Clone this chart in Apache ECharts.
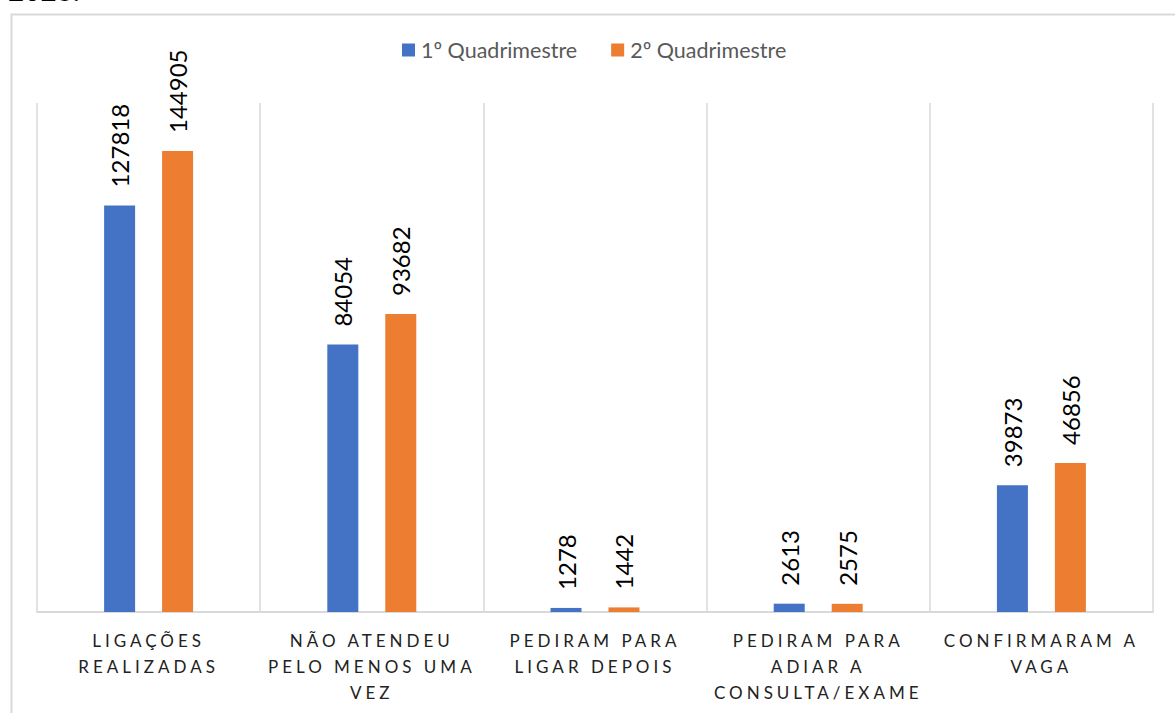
<!DOCTYPE html>
<html><head><meta charset="utf-8">
<script src="https://cdn.jsdelivr.net/npm/echarts@6/dist/echarts.min.js"></script>
<style>html,body{margin:0;padding:0;background:#fff;overflow:hidden}#c{width:1175px;height:713px}</style>
</head><body><div id="c"></div>
<script>
const categories = [
  'LIGAÇÕES\nREALIZADAS',
  'NÃO ATENDEU\nPELO MENOS UMA\nVEZ',
  'PEDIRAM PARA\nLIGAR DEPOIS',
  'PEDIRAM PARA\nADIAR A\nCONSULTA/EXAME',
  'CONFIRMARAM A\nVAGA'
];
const seriesNames = ['1º Quadrimestre', '2º Quadrimestre'];
const q1Values = [127818, 84054, 1278, 2613, 39873];
const q2Values = [144905, 93682, 1442, 2575, 46856];
const headerText = '2023.';

const FONT = 'Lato, "Open Sans", sans-serif';
const chart = echarts.init(document.getElementById('c'), null, {renderer: 'svg'});

const labelCfg = {
  show: true, position: 'top', rotate: 90, distance: 18,
  align: 'left', verticalAlign: 'middle',
  fontFamily: FONT, fontSize: 24, color: '#000'
};

chart.setOption({
  animation: false,
  backgroundColor: '#fff',
  graphic: [
    {type: 'rect', left: 9, top: 12, shape: {x: 0, y: 0, width: 1300, height: 900},
     style: {fill: 'none', stroke: '#d9d9d9', lineWidth: 2}, z: -1},
    {type: 'text', x: 8, y: -10,
     style: {text: headerText, font: '28px ' + FONT, fill: '#000', verticalAlign: 'middle'}}
  ],
  legend: {
    data: seriesNames, left: 397, top: 34,
    itemWidth: 13, itemHeight: 13, itemGap: 34, icon: 'rect',
    textStyle: {fontFamily: FONT, fontSize: 21.5, color: '#595959', padding: [0, 0, 0, 1]}
  },
  grid: {left: 37, right: 22, top: 103, bottom: 101, containLabel: false},
  xAxis: {
    type: 'category', data: categories,
    axisTick: {show: false},
    axisLine: {lineStyle: {color: '#d9d9d9', width: 2}},
    splitLine: {show: true, lineStyle: {color: '#d9d9d9', width: 1.5}},
    axisLabel: {interval: 0, margin: 15, fontFamily: FONT, fontSize: 17, lineHeight: 26, color: '#222'}
  },
  yAxis: {type: 'value', min: 0, max: 160000, show: false, splitLine: {show: false}},
  series: [
    {name: seriesNames[0], type: 'bar', data: q1Values, barWidth: 31, barGap: '87%',
     itemStyle: {color: '#4472C4'}, label: labelCfg},
    {name: seriesNames[1], type: 'bar', data: q2Values, barWidth: 31, barGap: '87%',
     itemStyle: {color: '#ED7D31'}, label: labelCfg}
  ]
});

const spacedLines = new Set();
categories.forEach(c => c.split('\n').forEach(l => spacedLines.add(l)));
function applySpacing() {
  document.querySelectorAll('#c svg text').forEach(t => {
    if (spacedLines.has(t.textContent)) {
      t.setAttribute('letter-spacing', '4px');
    }
  });
}
chart.on('finished', applySpacing);
setTimeout(applySpacing, 50);
setTimeout(applySpacing, 300);
</script>
</body></html>
